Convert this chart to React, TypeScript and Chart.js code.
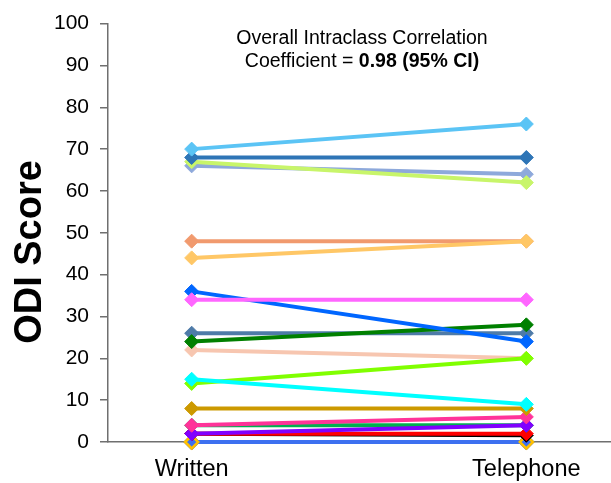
import React, { useEffect, useRef } from "react";
import { Chart, registerables } from "chart.js";

Chart.register(...registerables);

const FONT = "'Liberation Sans', Arial, sans-serif";

const categories = ["Written", "Telephone"];
const yTicks = [0, 10, 20, 30, 40, 50, 60, 70, 80, 90, 100];

// Series listed from bottom-most drawn to top-most drawn
const seriesNames = [
  "gray", "blueLow", "goldHollow", "black", "red", "green", "purple", "rose", "darkGold",
  "peach", "lime", "cyan", "steel", "darkGreen", "blue", "magenta", "salmon", "lightOrange",
  "lightSteel", "yellowGreen", "darkBlue", "lightBlue",
];
const writtenScores = [0, 0, 0, 2, 2, 4, 2, 4, 8, 22, 14, 15, 26, 24, 36, 34, 48, 44, 66, 67, 68, 70];
const telephoneScores = [0, 0, 0, 1.6, 2, 4, 4, 6, 8, 20, 20, 9, 26, 28, 24, 34, 48, 48, 64, 62, 68, 76];
const seriesColors = [
  "#808080", "#3D70F0", "#FFC000", "#000000", "#FF0000", "#00B050", "#8000FF", "#FF3399", "#CC9900",
  "#F7C6B0", "#80FF00", "#00FFFF", "#4E7BA8", "#008000", "#0066FF", "#FF66FF", "#F19A6E", "#FFC766",
  "#8EA9DB", "#C8F56A", "#2E75B6", "#5BC4F5",
];

const titleLine1 = "Overall Intraclass Correlation";
const titleLine2Normal = "Coefficient = ";
const titleLine2Bold = "0.98 (95% CI)";
const yAxisTitle = "ODI Score";

const textPlugin = {
  id: "textPlugin",
  afterDraw(chart: any) {
    const ctx = chart.ctx as CanvasRenderingContext2D;
    ctx.save();
    ctx.fillStyle = "#000";
    ctx.textBaseline = "middle";
    const cx = 362;
    const fs = 19.5;
    ctx.textAlign = "center";
    ctx.font = `${fs}px ${FONT}`;
    ctx.fillText(titleLine1, cx, 39);
    ctx.textAlign = "left";
    ctx.font = `${fs}px ${FONT}`;
    const w1 = ctx.measureText(titleLine2Normal).width;
    ctx.font = `bold ${fs}px ${FONT}`;
    const w2 = ctx.measureText(titleLine2Bold).width;
    const start = cx - (w1 + w2) / 2;
    ctx.font = `${fs}px ${FONT}`;
    ctx.fillText(titleLine2Normal, start, 62);
    ctx.font = `bold ${fs}px ${FONT}`;
    ctx.fillText(titleLine2Bold, start + w1, 62);

    ctx.translate(31, 252);
    ctx.rotate(-Math.PI / 2);
    ctx.textAlign = "center";
    ctx.font = `bold 38px ${FONT}`;
    ctx.fillText(yAxisTitle, 0, 0);
    ctx.restore();
  },
};

export default function App() {
  const canvasRef = useRef<HTMLCanvasElement | null>(null);

  useEffect(() => {
    if (!canvasRef.current) return;
    const datasets = seriesNames
      .map((name, i) => {
        const color = seriesColors[i];
        const ds: any = {
          label: name,
          data: categories.map((_, c) => ({ x: c, y: c === 0 ? writtenScores[i] : telephoneScores[i] })),
          borderColor: color,
          backgroundColor: color,
          borderWidth: 4,
          pointStyle: "rectRot",
          pointRadius: 7,
          pointBorderWidth: 1,
          pointBorderColor: color,
          pointBackgroundColor: color,
          clip: false,
          tension: 0,
        };
        if (name === "gray") {
          ds.pointRadius = 8;
        }
        if (name === "blueLow") {
          ds.pointRadius = 4.5;
        }
        if (name === "goldHollow") {
          ds.pointRadius = 6.5;
          ds.pointBorderWidth = 2.5;
          ds.pointBackgroundColor = "rgba(0,0,0,0)";
          ds.borderWidth = 0;
        }
        return ds;
      })
      .reverse();

    const chart = new Chart(canvasRef.current, {
      type: "line",
      data: { datasets },
      options: {
        animation: false,
        responsive: false,
        devicePixelRatio: 1,
        layout: { autoPadding: false, padding: { top: 21, right: 1, bottom: 0, left: 0 } },
        plugins: { legend: { display: false }, tooltip: { enabled: false }, title: { display: false } },
        scales: {
          x: {
            type: "linear",
            min: -0.25,
            max: 1.25,
            afterBuildTicks: (s: any) => {
              s.ticks = categories.map((_, i) => ({ value: i }));
            },
            ticks: {
              callback: (v: any) => categories[v] ?? "",
              font: { size: 23.5, family: FONT },
              color: "#000",
              padding: 13,
              maxRotation: 0,
              autoSkip: false,
            },
            grid: { display: false, drawTicks: false },
            border: { display: true, color: "#6f6f6f", width: 1.5 },
            afterFit: (s: any) => {
              s.height = 41;
              s.paddingLeft = 0;
              s.paddingRight = 0;
            },
          },
          y: {
            min: 0,
            max: 100,
            afterBuildTicks: (s: any) => {
              s.ticks = yTicks.map((v) => ({ value: v }));
            },
            ticks: {
              font: { size: 21, family: FONT },
              color: "#000",
              padding: 11,
            },
            grid: { drawOnChartArea: false, drawTicks: true, tickLength: 8, color: "#6f6f6f", lineWidth: 1.5 },
            border: { display: true, color: "#6f6f6f", width: 1.5 },
            afterFit: (s: any) => {
              s.width = 108;
            },
          },
        },
      },
      plugins: [textPlugin],
    });
    return () => chart.destroy();
  }, []);

  return (
    <div style={{ position: "fixed", left: 0, top: 0, width: 611, height: 483, background: "#fff" }}>
      <canvas ref={canvasRef} width={611} height={483} style={{ display: "block" }} />
    </div>
  );
}
